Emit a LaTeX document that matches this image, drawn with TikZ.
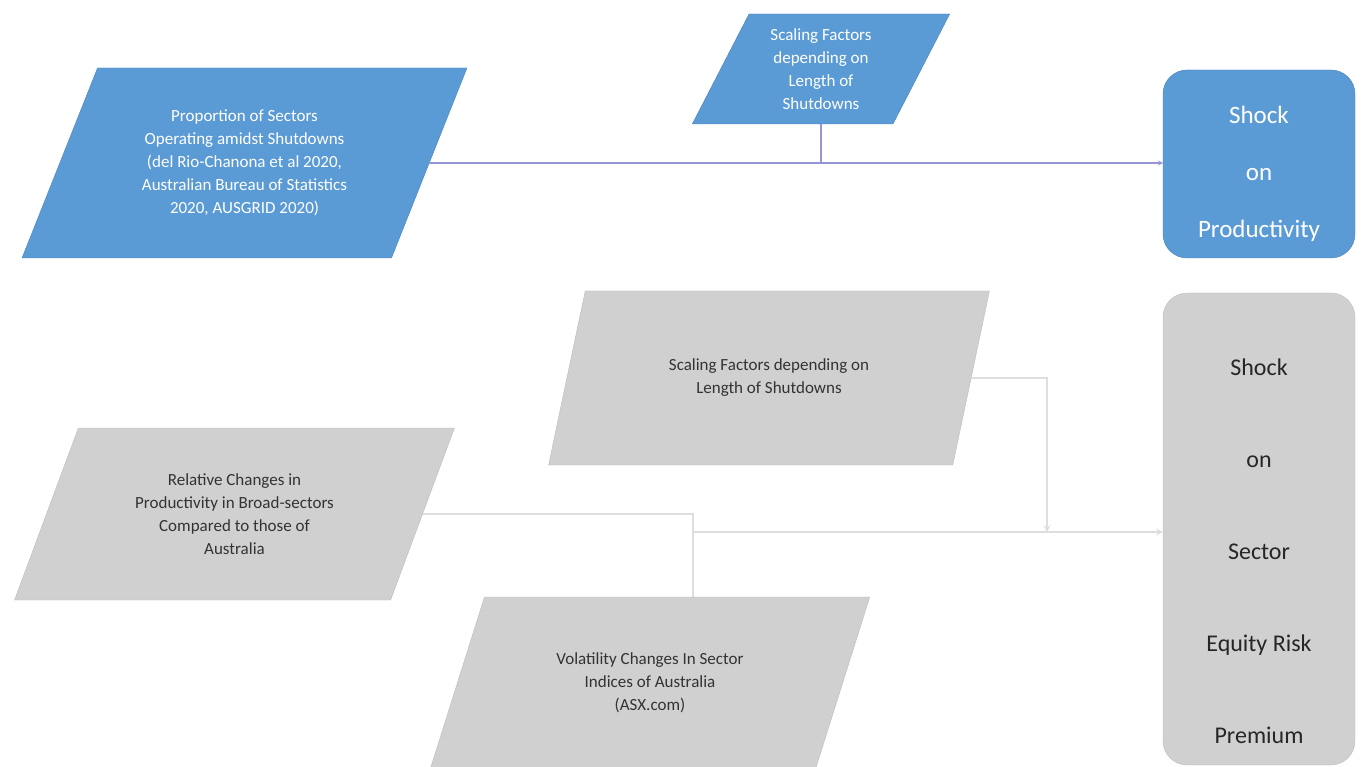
\documentclass[tikz,border=0pt]{standalone}
\usepackage{fontspec}
\setmainfont{Carlito}
\usetikzlibrary{shapes.geometric, arrows}
\definecolor{officeblue}{RGB}{91,155,213}
\definecolor{blueedge}{RGB}{70,130,190}
\definecolor{boxgray}{RGB}{208,208,208}
\definecolor{linegray}{RGB}{222,222,222}
\definecolor{linepurple}{RGB}{150,150,215}
\tikzstyle{bluepar} = [trapezium, trapezium left angle=64, trapezium right angle=116, trapezium stretches=true, draw=blueedge, fill=officeblue, text=white, align=center, inner sep=2pt, outer sep=0pt, font=\fontsize{17}{23}\selectfont]
\tikzstyle{graypar} = [trapezium, trapezium left angle=64, trapezium right angle=116, trapezium stretches=true, draw=boxgray!90!black, fill=boxgray, text=black!80, align=center, inner sep=2pt, outer sep=0pt, font=\fontsize{17}{23}\selectfont]
\tikzstyle{shockbox} = [rectangle, rounded corners=24pt, minimum width=192pt, align=center, outer sep=0pt]
\tikzstyle{bluearrow} = [linepurple, line width=1.2pt, ->, >=stealth]
\tikzstyle{grayline} = [linegray, line width=2pt]
\tikzstyle{grayarrow} = [linegray, line width=2pt, ->, >=stealth]

\begin{document}
\begin{tikzpicture}[x=1pt, y=-1pt]
        \useasboundingbox (0,0) rectangle (1366,767);
        \node (sectors) [bluepar, minimum width=445pt, minimum height=190pt] at (244.5,163) {Proportion of Sectors\\Operating amidst Shutdowns\\(del Rio-Chanona et al 2020,\\Australian Bureau of Statistics\\2020, AUSGRID 2020)};
        \node (scaleA) [bluepar, minimum width=258pt, minimum height=110pt] at (821,69) {Scaling Factors\\depending on\\Length of\\Shutdowns};
        \node (prod) [shockbox, minimum height=188pt, draw=blueedge, fill=officeblue, text=white, font=\fontsize{25}{57}\selectfont] at (1259,164) {\mbox{}\\[-20pt]Shock\\on\\Productivity};
        \node (scaleB) [graypar, minimum width=442pt, minimum height=174pt] at (769,378) {Scaling Factors depending on\\Length of Shutdowns};
        \node (relative) [graypar, minimum width=441pt, minimum height=172pt] at (234.5,514) {Relative Changes in\\Productivity in Broad-sectors\\Compared to those of\\Australia};
        \node (volatility) [graypar, minimum width=440pt, minimum height=172pt] at (650,683) {Volatility Changes In Sector\\Indices of Australia\\(ASX.com)};
        \node (risk) [shockbox, minimum height=472pt, draw=boxgray!92!black, fill=boxgray, text=black!85, font=\fontsize{24}{92}\selectfont] at (1259,529) {\mbox{}\\[-31pt]Shock\\on\\Sector\\Equity Risk\\Premium};
        \coordinate (joinA) at (693,532);
        \coordinate (joinB) at (1047,532);
        % top row
        \draw [bluearrow] (sectors.east) -- (sectors.east -| prod.west);
        \draw [linepurple, line width=1.2pt] (scaleA.south) -- (scaleA.south |- sectors.east);
        % lower rows
        \draw [grayarrow] (scaleB.east) -| (joinB);
        \draw [grayline] (relative.east) -| (joinA);
        \draw [grayline] (joinA |- volatility.north) -- (joinA);
        \draw [grayarrow] (joinA) -- (joinA -| risk.west);
    \end{tikzpicture}
\end{document}
